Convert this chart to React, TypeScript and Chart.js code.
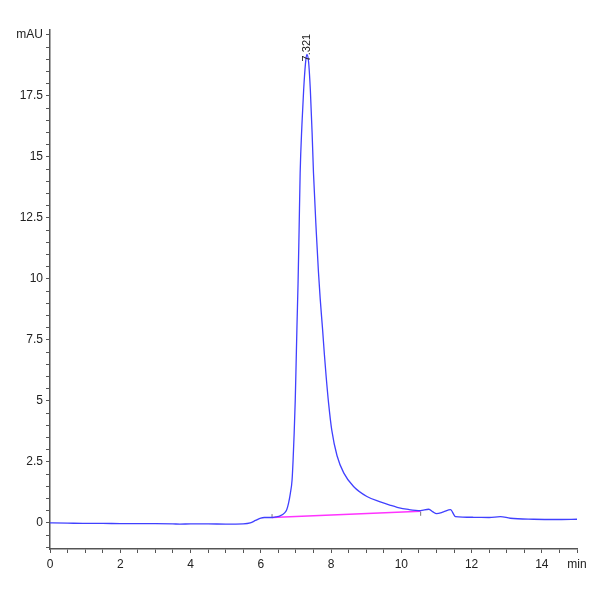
import { useEffect, useRef } from 'react'
import { Chart, registerables, ChartConfiguration, Plugin } from 'chart.js'

Chart.register(...registerables)

// retention time (min) and absorbance (mAU)
const times = [
  0, 0.5, 1, 1.5, 2, 2.5, 3, 3.5, 3.7, 4, 4.5, 5, 5.5, 5.7, 5.85, 6.0, 6.1, 6.32, 6.45, 6.55,
  6.67, 6.74, 6.79, 6.84, 6.89, 6.92, 6.95, 6.98, 7.0, 7.03, 7.06, 7.09, 7.12, 7.17, 7.22, 7.27,
  7.31, 7.36, 7.41, 7.46, 7.5, 7.58, 7.64, 7.69, 7.76, 7.81, 7.86, 7.93, 8.02, 8.17, 8.36, 8.64,
  9.02, 9.4, 9.69, 9.88, 10.2, 10.54, 10.78, 10.9, 11.0, 11.2, 11.4, 11.54, 12.06, 12.5, 12.82,
  13.1, 13.76, 14.5, 15,
]
const signal = [
  0, -0.01, -0.02, -0.02, -0.03, -0.03, -0.03, -0.04, -0.05, -0.04, -0.04, -0.05, -0.04, 0.0,
  0.1, 0.2, 0.22, 0.22, 0.25, 0.29, 0.4, 0.55, 0.81, 1.2, 1.76, 2.6, 3.68, 5.0, 6.2, 8.1, 9.8,
  12.0, 14.33, 16.3, 17.75, 18.8, 19.2, 18.9, 17.75, 16.0, 14.33, 11.9, 10.3, 9.2, 7.9, 6.9, 6.0,
  4.9, 3.8, 2.75, 2.05, 1.49, 1.08, 0.86, 0.72, 0.64, 0.55, 0.5, 0.56, 0.45, 0.38, 0.45, 0.54,
  0.26, 0.23, 0.22, 0.26, 0.19, 0.15, 0.14, 0.15,
]

// integration baseline
const baseTimes = [6.32, 10.55]
const baseValues = [0.22, 0.48]

// start / end markers of the integration
const startMark = [0.22, 0.36]
const endMark = [0.29, 0.46]

const peakTime = 7.321
const peakHeight = 19.2
const peakLabel = '7.321'

const xMajor = [0, 2, 4, 6, 8, 10, 12, 14]
const yMajor = [0, 2.5, 5, 7.5, 10, 12.5, 15, 17.5]

const FONT = "'Liberation Sans Narrow', 'Liberation Sans', sans-serif"

const peakLabelPlugin: Plugin = {
  id: 'peakLabel',
  afterDatasetsDraw(chart) {
    const { ctx, scales } = chart
    const x = scales.x.getPixelForValue(peakTime)
    const y = scales.y.getPixelForValue(peakHeight)
    ctx.save()
    ctx.translate(x, y + 7)
    ctx.rotate(-Math.PI / 2)
    ctx.font = `11px ${FONT}`
    ctx.fillStyle = '#222'
    ctx.textAlign = 'left'
    ctx.textBaseline = 'middle'
    ctx.fillText(peakLabel, 0, 0)
    ctx.restore()
  },
}

export default function App() {
  const canvasRef = useRef<HTMLCanvasElement>(null)
  const chartRef = useRef<Chart | null>(null)

  useEffect(() => {
    if (!canvasRef.current) return
    if (chartRef.current) chartRef.current.destroy()

    const config: ChartConfiguration = {
      type: 'line',
      data: {
        datasets: [
          {
            data: times.map((t, i) => ({ x: t, y: signal[i] })),
            borderColor: '#4040ff',
            borderWidth: 1.3,
            pointRadius: 0,
            cubicInterpolationMode: 'monotone',
          },
          {
            data: baseTimes.map((t, i) => ({ x: t, y: baseValues[i] })),
            borderColor: '#ff33ff',
            borderWidth: 1.5,
            pointRadius: 0,
          },
          {
            data: startMark.map((v) => ({ x: baseTimes[0], y: v })),
            borderColor: '#777',
            borderWidth: 1,
            pointRadius: 0,
          },
          {
            data: endMark.map((v) => ({ x: baseTimes[1], y: v })),
            borderColor: '#777',
            borderWidth: 1,
            pointRadius: 0,
          },
        ],
      },
      options: {
        animation: false,
        responsive: true,
        maintainAspectRatio: false,
        layout: { padding: { top: 30, right: 23, left: 0, bottom: 0 } },
        plugins: {
          legend: { display: false },
          tooltip: { enabled: false },
        },
        scales: {
          x: {
            type: 'linear',
            min: 0,
            max: 15,
            afterBuildTicks: (axis) => {
              const ticks = []
              for (let v = 0; v <= 15.001; v += 0.5) ticks.push({ value: Math.round(v * 10) / 10 })
              axis.ticks = ticks
            },
            afterFit: (axis) => {
              axis.height = 51
            },
            border: { display: true, color: '#555', width: 1.5 },
            grid: { drawOnChartArea: false, tickLength: 4, tickColor: '#555' },
            ticks: {
              autoSkip: false,
              maxRotation: 0,
              color: '#222',
              padding: 4,
              font: { family: FONT, size: 12 },
              callback: (value) => {
                const v = Number(value)
                if (v === 15) return 'min'
                return xMajor.includes(v) ? String(v) : ''
              },
            },
          },
          y: {
            type: 'linear',
            min: -1.07,
            max: 20.2,
            afterBuildTicks: (axis) => {
              const ticks = []
              for (let v = -1; v <= 20.001; v += 0.5) ticks.push({ value: Math.round(v * 10) / 10 })
              axis.ticks = ticks
            },
            afterFit: (axis) => {
              axis.width = 50
            },
            border: { display: true, color: '#555', width: 1.5 },
            grid: { drawOnChartArea: false, tickLength: 4, tickColor: '#555' },
            ticks: {
              autoSkip: false,
              color: '#222',
              padding: 3,
              font: { family: FONT, size: 12 },
              callback: (value) => {
                const v = Number(value)
                if (v === 20) return 'mAU'
                return yMajor.includes(v) ? String(v) : ''
              },
            },
          },
        },
      },
      plugins: [peakLabelPlugin],
    }

    chartRef.current = new Chart(canvasRef.current, config)

    return () => {
      if (chartRef.current) {
        chartRef.current.destroy()
        chartRef.current = null
      }
    }
  }, [])

  return (
    <div style={{ position: 'fixed', left: 0, top: 0, width: 600, height: 600, background: '#fff' }}>
      <canvas ref={canvasRef} />
    </div>
  )
}
